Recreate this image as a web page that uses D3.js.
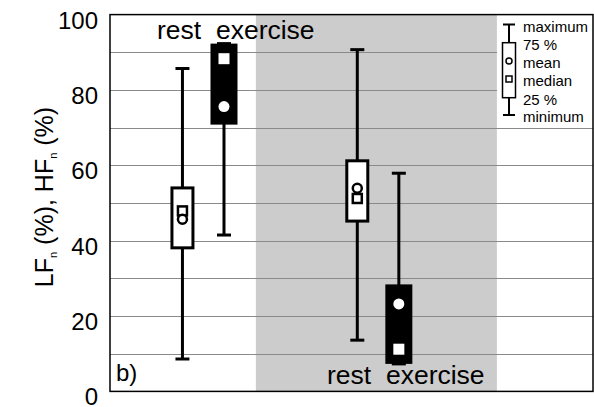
<!DOCTYPE html>
<html>
<head>
<meta charset="utf-8">
<script src="https://cdn.jsdelivr.net/npm/d3@7"></script>
<style>
  body { margin: 0; background: #fff; }
  svg { font-family: "Liberation Sans", Arial, sans-serif; }
</style>
</head>
<body>
<svg width="594" height="407"></svg>
<script>
// LFn (rest, exercise) then HFn (rest, exercise)
const conditions = ['rest', 'exercise', 'rest', 'exercise'];
const positions = [1.5, 2.36, 5.12, 5.98];
const maxVals = [85.7, 92.3, 90.7, 57.9];
const q3Vals = [54.0, 92.3, 61.2, 28.4];
const q1Vals = [38.1, 70.8, 45.2, 7.3];
const minVals = [8.6, 41.5, 13.6, 7.3];
const meanVals = [45.7, 75.6, 53.9, 23.2];
const medianVals = [47.9, 88.3, 51.2, 11.2];
const yTicks = [0, 20, 40, 60, 80, 100];
const gridVals = [10, 20, 30, 40, 50, 60, 70, 80, 90];
const legendLabels = ['maximum', '75 %', 'mean', 'median', '25 %', 'minimum'];

const svg = d3.select('svg');
const pLeft = 110, pRight = 593, pTop = 14.6, pBottom = 391.4;

const x = d3.scaleLinear().domain([0, 10]).range([pLeft, pRight]);
const y = d3.scaleLinear().domain([0, 100]).range([pBottom, pTop]);

// shaded HF region
svg.append('rect')
  .attr('x', x(3.02)).attr('y', pTop)
  .attr('width', x(8.01) - x(3.02)).attr('height', pBottom - pTop)
  .attr('fill', '#cccccc');

// grid
svg.selectAll('.grid')
  .data(gridVals)
  .enter()
  .append('line')
  .attr('x1', pLeft).attr('x2', pRight)
  .attr('y1', d => Math.round(y(d)) + 0.5)
  .attr('y2', d => Math.round(y(d)) + 0.5)
  .attr('stroke', '#8a8a8a')
  .attr('stroke-width', 1);

// y axis labels
const yAxis = d3.axisLeft(y).tickValues(yTicks).tickSize(0).tickPadding(12);
svg.append('g')
  .attr('transform', `translate(${pLeft},0)`)
  .call(yAxis)
  .call(g => g.select('.domain').remove())
  .selectAll('text')
  .attr('font-size', 24)
  .attr('fill', '#000')
  .attr('font-family', '"Liberation Sans", Arial, sans-serif')
  .attr('dy', '0.56em');

// y title
const yTitle = svg.append('text')
  .attr('transform', `translate(53,${(pTop + pBottom) / 2 - 6}) rotate(-90)`)
  .attr('text-anchor', 'middle')
  .attr('font-size', 25);
yTitle.append('tspan').text('LF');
yTitle.append('tspan').attr('font-size', 11).attr('dy', 4).text('n');
yTitle.append('tspan').attr('dy', -4).text(' (%), HF');
yTitle.append('tspan').attr('font-size', 11).attr('dy', 4).text('n');
yTitle.append('tspan').attr('dy', -4).text(' (%)');

// boxes
const boxes = conditions.map((c, i) => ({
  cond: c, pos: positions[i], max: maxVals[i], q3: q3Vals[i],
  q1: q1Vals[i], min: minVals[i], mean: meanVals[i], median: medianVals[i]
}));

const box = svg.selectAll('.box')
  .data(boxes)
  .enter()
  .append('g')
  .attr('class', 'box');

box.append('line')
  .attr('x1', d => x(d.pos)).attr('x2', d => x(d.pos))
  .attr('y1', d => y(d.max)).attr('y2', d => y(d.min))
  .attr('stroke', '#000').attr('stroke-width', 3);

box.append('line')
  .attr('x1', d => x(d.pos) - 7).attr('x2', d => x(d.pos) + 7)
  .attr('y1', d => y(d.max)).attr('y2', d => y(d.max))
  .attr('stroke', '#000').attr('stroke-width', 3);

box.append('line')
  .attr('x1', d => x(d.pos) - 7).attr('x2', d => x(d.pos) + 7)
  .attr('y1', d => y(d.min)).attr('y2', d => y(d.min))
  .attr('stroke', '#000').attr('stroke-width', 3);

box.append('rect')
  .attr('x', d => d.cond === 'rest' ? x(d.pos) - 10.5 : x(d.pos) - 13.5)
  .attr('width', d => d.cond === 'rest' ? 21 : 27)
  .attr('y', d => y(d.q3))
  .attr('height', d => y(d.q1) - y(d.q3))
  .attr('fill', d => d.cond === 'rest' ? '#fff' : '#000')
  .attr('stroke', d => d.cond === 'rest' ? '#000' : 'none')
  .attr('stroke-width', 3);

box.append('rect')
  .attr('x', d => x(d.pos) - (d.cond === 'rest' ? 4.5 : 5.5))
  .attr('y', d => y(d.median) - (d.cond === 'rest' ? 4.5 : 5.5))
  .attr('width', d => d.cond === 'rest' ? 9 : 11)
  .attr('height', d => d.cond === 'rest' ? 9 : 11)
  .attr('fill', '#fff')
  .attr('stroke', d => d.cond === 'rest' ? '#000' : 'none')
  .attr('stroke-width', 2.5);

box.append('circle')
  .attr('cx', d => x(d.pos))
  .attr('cy', d => y(d.mean))
  .attr('r', d => d.cond === 'rest' ? 4.5 : 5.5)
  .attr('fill', '#fff')
  .attr('stroke', d => d.cond === 'rest' ? '#000' : 'none')
  .attr('stroke-width', 2.5);

// condition labels
svg.append('text')
  .attr('x', 157).attr('y', 39)
  .attr('font-size', 26.5)
  .attr('xml:space', 'preserve')
  .text('rest  exercise');
svg.append('text')
  .attr('x', 327).attr('y', 384)
  .attr('font-size', 26.5)
  .attr('xml:space', 'preserve')
  .text('rest  exercise');

svg.append('text')
  .attr('x', 116).attr('y', 381)
  .attr('font-size', 24)
  .text('b)');

// legend
const lx = 509;
const legendY = [24.5, 42.7, 61, 79, 97.7, 115];
const lg = svg.append('g');
lg.append('rect')
  .attr('x', 497).attr('y', pTop).attr('width', pRight - 497).attr('height', 112)
  .attr('fill', '#fff');
lg.append('line')
  .attr('x1', lx).attr('x2', lx).attr('y1', legendY[0]).attr('y2', legendY[5])
  .attr('stroke', '#000').attr('stroke-width', 2);
[legendY[0], legendY[5]].forEach(v => {
  lg.append('line')
    .attr('x1', lx - 6).attr('x2', lx + 6).attr('y1', v).attr('y2', v)
    .attr('stroke', '#000').attr('stroke-width', 2);
});
lg.append('rect')
  .attr('x', lx - 6.5).attr('y', legendY[1])
  .attr('width', 13).attr('height', legendY[4] - legendY[1])
  .attr('fill', '#fff').attr('stroke', '#000').attr('stroke-width', 1.5);
lg.append('circle')
  .attr('cx', lx).attr('cy', legendY[2]).attr('r', 3)
  .attr('fill', '#fff').attr('stroke', '#000').attr('stroke-width', 1.5);
lg.append('rect')
  .attr('x', lx - 3).attr('y', legendY[3] - 3).attr('width', 6).attr('height', 6)
  .attr('fill', '#fff').attr('stroke', '#000').attr('stroke-width', 1.5);
lg.selectAll('.ltext')
  .data(legendLabels)
  .enter()
  .append('text')
  .attr('x', 523)
  .attr('y', (d, i) => legendY[i] + 7)
  .attr('font-size', 15)
  .text(d => d);

// frame
svg.append('rect')
  .attr('x', pLeft).attr('y', pTop)
  .attr('width', pRight - pLeft).attr('height', pBottom - pTop)
  .attr('fill', 'none').attr('stroke', '#000').attr('stroke-width', 1.5);
</script>
</body>
</html>
